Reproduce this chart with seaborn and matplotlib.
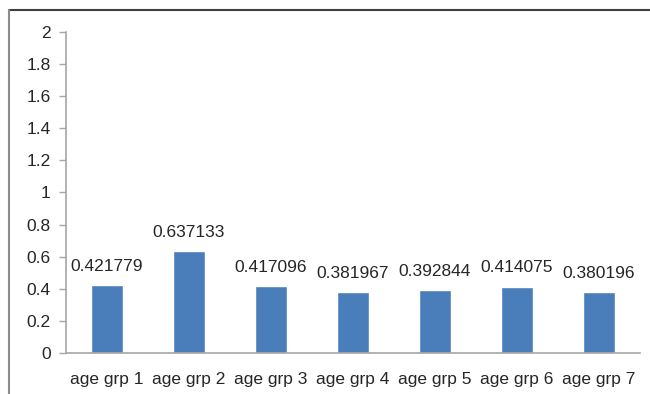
import matplotlib
matplotlib.use("Agg")
import matplotlib.pyplot as plt
import seaborn as sns
from matplotlib.lines import Line2D

groups = ["age grp 1", "age grp 2", "age grp 3", "age grp 4", "age grp 5", "age grp 6", "age grp 7"]
values = [0.421779, 0.637133, 0.417096, 0.381967, 0.392844, 0.414075, 0.380196]
labels = ["0.421779", "0.637133", "0.417096", "0.381967", "0.392844", "0.414075", "0.380196"]
y_ticks = [0, 0.2, 0.4, 0.6, 0.8, 1, 1.2, 1.4, 1.6, 1.8, 2]
y_tick_labels = ["0", "0.2", "0.4", "0.6", "0.8", "1", "1.2", "1.4", "1.6", "1.8", "2"]

sns.set_style("white")
plt.rcParams["font.family"] = ["Liberation Sans", "DejaVu Sans"]

text_col = "#262626"
axis_col = "#a6a6a6"

fig = plt.figure(figsize=(6.5, 3.94), dpi=100)
ax = fig.add_axes([66 / 650, 1 - 353 / 394, 574 / 650, 321 / 394])

sns.barplot(x=groups, y=values, color="#4a7ebb", width=0.4, saturation=1, ax=ax)

# value labels above bars
for i, (v, lab) in enumerate(zip(values, labels)):
    ax.annotate(lab, (i, v), xytext=(0, 8), textcoords="offset points",
                ha="center", va="bottom", fontsize=12.5, color=text_col)

ax.set_xlim(-0.5, len(groups) - 0.5)
ax.set_ylim(0, 2)
ax.set_yticks(y_ticks)
ax.set_yticklabels(y_tick_labels)
ax.set_xticks(range(len(groups)))
ax.set_xticklabels(groups)

# category boundary ticks on x axis
ax.set_xticks([i - 0.5 for i in range(len(groups) + 1)], minor=True)
ax.tick_params(axis="x", which="major", length=0, pad=14, labelsize=12.5, labelcolor=text_col)
ax.tick_params(axis="x", which="minor", length=5, width=1, color=axis_col, direction="out")
ax.tick_params(axis="y", length=5, width=1, color=axis_col, direction="out", labelsize=12.5,
               labelcolor=text_col, pad=6, left=True)

for s in ["top", "right"]:
    ax.spines[s].set_visible(False)
for s in ["left", "bottom"]:
    ax.spines[s].set_color(axis_col)
    ax.spines[s].set_linewidth(1.2)

# outer chart frame (top and left visible)
fig.add_artist(Line2D([9 / 650, 1], [1 - 10 / 394, 1 - 10 / 394], color="#404040", lw=1.5,
                      transform=fig.transFigure))
fig.add_artist(Line2D([9 / 650, 9 / 650], [0, 1 - 10 / 394], color="#8c8c8c", lw=1.5,
                      transform=fig.transFigure))

fig.savefig("out.png", dpi=100)
